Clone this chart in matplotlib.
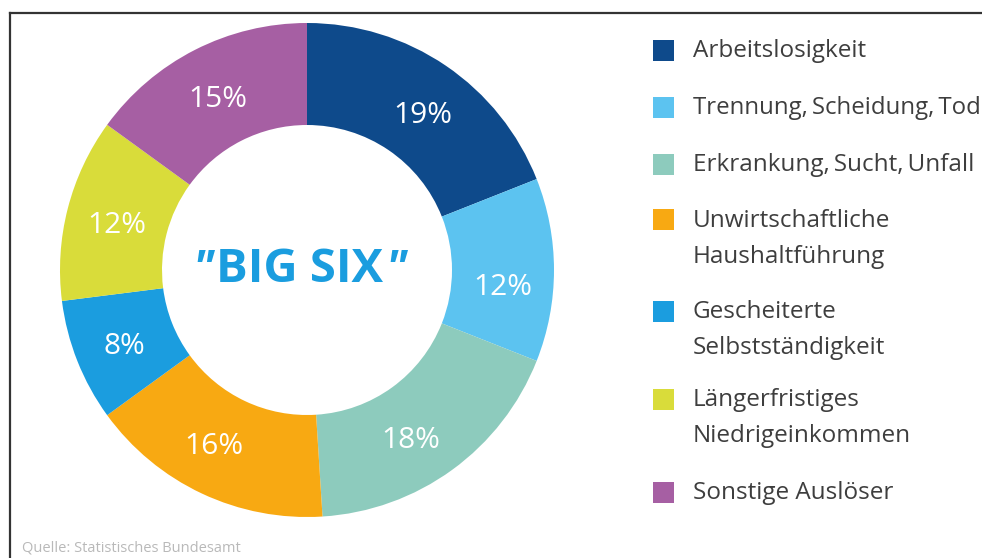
import matplotlib
matplotlib.use("Agg")
import matplotlib.pyplot as plt
from matplotlib.lines import Line2D
import numpy as np

# Shares of the main triggers for over-indebtedness (percent)
categories = [
    "Arbeitslosigkeit",
    "Trennung,\u2009Scheidung,\u2009Tod",
    "Erkrankung,\u2009Sucht,\u2009Unfall",
    "Unwirtschaftliche\nHaushaltführung",
    "Gescheiterte\nSelbstständigkeit",
    "Längerfristiges\nNiedrigeinkommen",
    "Sonstige Auslöser",
]
shares = [19, 12, 18, 16, 8, 12, 15]
colors = ["#0e4a8b", "#5cc3f0", "#8dcbbd", "#f8a912", "#1b9ddf", "#d9dc3a", "#a65fa3"]
center_label = "BIG SIX"
source = "Quelle: Statistisches Bundesamt"

plt.rcParams["font.family"] = ["Open Sans", "DejaVu Sans"]

W, H = 982, 558
fig = plt.figure(figsize=(W / 100, H / 100), dpi=100)
fig.patch.set_facecolor("white")

# Donut axes: centre and radius in pixels
cx, cy, r_px = 307, 270, 247
lim = 1.05
size = 2 * lim * r_px
ax = fig.add_axes([(cx - size / 2) / W, (H - cy - size / 2) / H, size / W, size / H])

inner = 145 / 247
ring = 1 - inner
wedges, _ = ax.pie(shares, colors=colors, startangle=90, counterclock=False,
                   radius=1.0, wedgeprops=dict(width=ring, edgecolor="none"))
ax.set_xlim(-lim, lim)
ax.set_ylim(-lim, lim)
ax.set_aspect("equal")
ax.axis("off")

# Percent labels in the middle of the ring, nudged slightly clockwise
mid_r = (1 + inner) / 2
nudge_deg = [-2, -4, -4, -3, 0, 0, 0]
drop = 4 / r_px
for w, s, nd in zip(wedges, shares, nudge_deg):
    ang = np.deg2rad((w.theta1 + w.theta2) / 2 + nd)
    ax.text(mid_r * np.cos(ang), mid_r * np.sin(ang) - drop, f"{s}%", ha="center",
            va="center", color="white", fontsize=21.5)

# Centre title with slanted quotation marks on either side
blue = "#1a9ddf"
title = ax.text(-0.03, 0.0, center_label, ha="center", va="center", color=blue,
                fontsize=34, fontweight="bold")
renderer = fig.canvas.get_renderer()
bb = title.get_window_extent(renderer).transformed(ax.transData.inverted())
ax.text(bb.x0 - 0.01, 0.0, '"', ha="right", va="center", color=blue, fontsize=34,
        fontweight="bold", fontstyle="italic")
ax.text(bb.x1 + 0.01, 0.0, '"', ha="left", va="center", color=blue, fontsize=34,
        fontweight="bold", fontstyle="italic")

# Legend drawn manually on the right
sq = 21
sq_x = 653
txt_x = 693
sq_y = [50, 107, 164, 220, 311, 399, 492]
line_gap = 36
for cat, col, y in zip(categories, colors, sq_y):
    fig.patches.append(plt.Rectangle((sq_x / W, 1 - (y + sq / 2) / H), sq / W, sq / H,
                                     transform=fig.transFigure, facecolor=col,
                                     edgecolor="none"))
    for k, line in enumerate(cat.split("\n")):
        t = fig.text(txt_x / W, 1 - (y + 1 + k * line_gap) / H, line, ha="left",
                     va="center", color="#3e3e3e", fontsize=17.5)
        # keep long entries inside the figure
        ext = t.get_window_extent(renderer)
        if ext.x1 > W - 2:
            t.set_fontsize(17.5 * (W - 2 - txt_x) / (ext.x1 - txt_x))

fig.text(22 / W, 1 - 548 / H, source, ha="left", va="center", color="#b9b9b9",
         fontsize=10.5)

# Frame along the top and left edges
fig.lines.append(Line2D([10 / W, 10 / W], [1 - 13 / H, 0], transform=fig.transFigure,
                        color="#333333", linewidth=1.6))
fig.lines.append(Line2D([10 / W, 1], [1 - 13 / H, 1 - 13 / H], transform=fig.transFigure,
                        color="#333333", linewidth=1.6))

fig.savefig("out.png", dpi=100, facecolor="white")
